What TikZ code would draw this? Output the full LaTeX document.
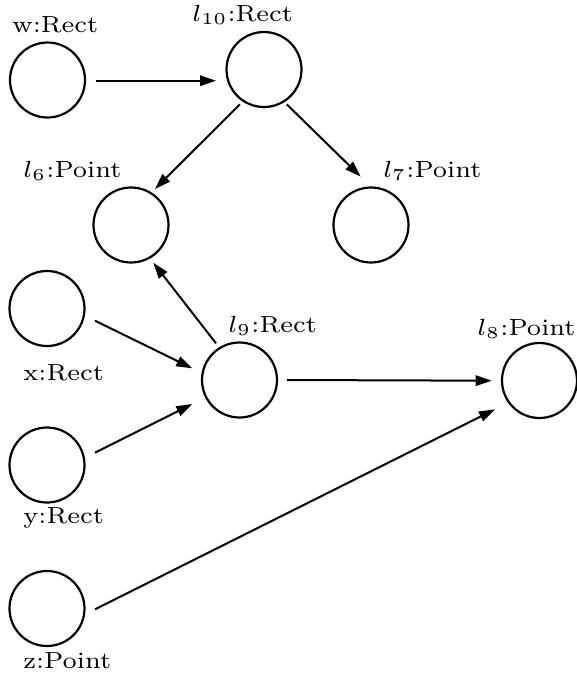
\documentclass[tikz,border=0pt]{standalone}
\usetikzlibrary{arrows.meta,calc}

\tikzset{
  obj/.style={circle, draw, line width=1.1pt, minimum size=37.5pt, inner sep=0pt},
  tag/.style={anchor=base west, inner sep=0pt},
  edge/.style={line width=1pt, -{Triangle[length=8pt,width=5.2pt]}},
}
% labels: small optical size, enlarged and slightly widened
\newcommand{\lbl}[1]{\scalebox{1.79}[1.67]{\fontsize{7}{8.4}\selectfont #1}}

\begin{document}
\begin{tikzpicture}[x=0.5pt, y=-0.5pt]
  \useasboundingbox (0,0) rectangle (577,676);

  % objects
  \node[obj] (wn)  at (47.5, 80)   {};
  \node[obj] (l10) at (264, 69.5)  {};
  \node[obj] (l6)  at (131, 225)   {};
  \node[obj] (l7)  at (371, 225)   {};
  \node[obj] (xn)  at (47, 308.5)  {};
  \node[obj] (l9)  at (239.5, 380) {};
  \node[obj] (l8)  at (539.5, 380.5) {};
  \node[obj] (yn)  at (47, 465)    {};
  \node[obj] (zn)  at (47, 608.5)  {};

  % names and types
  \node[tag] (twn)  at (12, 32)   {\lbl{w:Rect}};
  \node[tag] (tl10) at (192, 21)  {\lbl{$l_{10}$:Rect}};
  \node[tag] (tl6)  at (23, 177)  {\lbl{$l_6$:Point}};
  \node[tag] (tl7)  at (383, 177) {\lbl{$l_7$:Point}};
  \node[tag] (tl9)  at (228, 332) {\lbl{$l_9$:Rect}};
  \node[tag] (txn)  at (23, 380)  {\lbl{x:Rect}};
  \node[tag] (tl8)  at (477, 335) {\lbl{$l_8$:Point}};
  \node[tag] (tyn)  at (23, 523)  {\lbl{y:Rect}};
  \node[tag] (tzn)  at (23, 668)  {\lbl{z:Point}};

  % references
  \draw[edge] ($(wn)+(48.5,0.7)$)    -- ($(l10)+(-48,11.2)$);
  \draw[edge] ($(l10)+(-24,34.8)$)   -- ($(l6)+(24,-36)$);
  \draw[edge] ($(l10)+(22.7,34.8)$)  -- ($(l7)+(-10.3,-48.3)$);
  \draw[edge] ($(l9)+(-23.5,-36.7)$) -- ($(l6)+(22.3,37.7)$);
  \draw[edge] ($(xn)+(48,12.2)$)     -- ($(l9)+(-47.2,-11.7)$);
  \draw[edge] ($(yn)+(48,-12.3)$)    -- ($(l9)+(-47.2,24)$);
  \draw[edge] ($(l9)+(47.5,0)$)      -- ($(l8)+(-47.8,0.2)$);
  \draw[edge] ($(zn)+(48,0.8)$)      -- ($(l8)+(-44.5,28.8)$);
\end{tikzpicture}
\end{document}
